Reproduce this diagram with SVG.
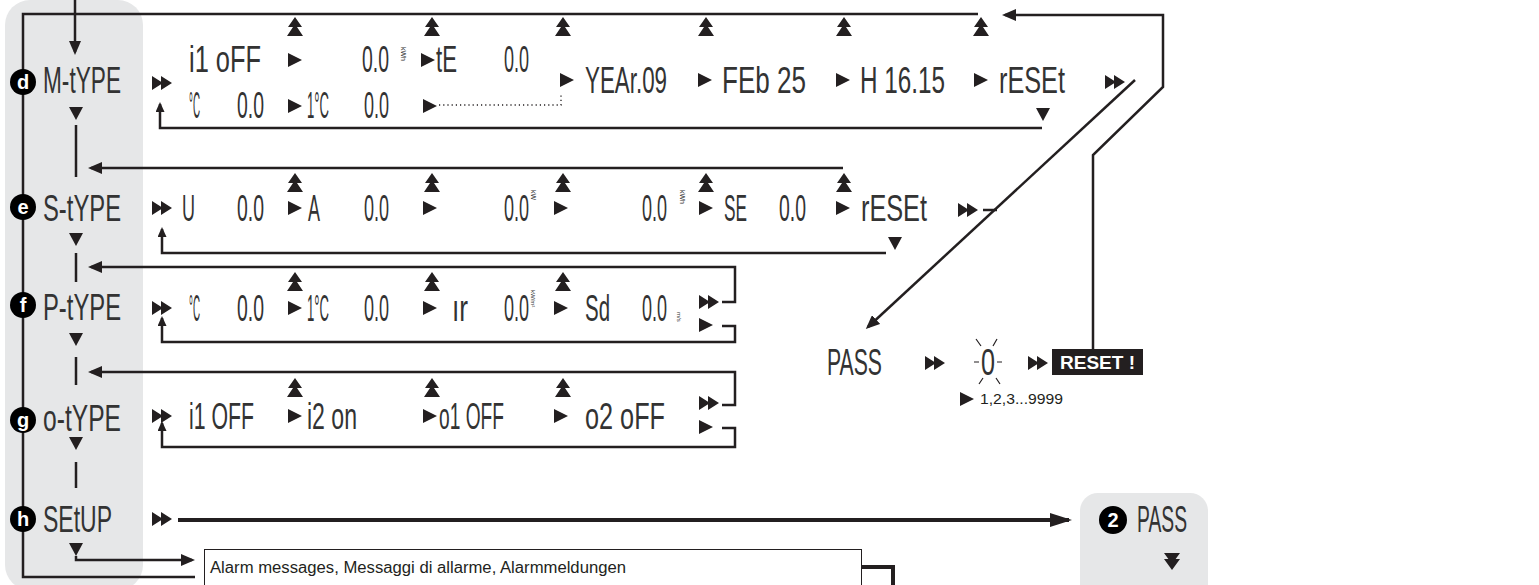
<svg xmlns="http://www.w3.org/2000/svg" width="1539" height="585" viewBox="0 0 1539 585">
<style>
.bg{fill:#ffffff}
.panel{fill:#e6e7e8}
.ln{fill:none;stroke:#231f20;stroke-width:2.5}
.thk{fill:none;stroke:#231f20;stroke-width:4}
.dot{fill:none;stroke:#231f20;stroke-width:1.3;stroke-dasharray:1.2 3}
.sym{fill:#231f20}
.lcd{font-family:"Liberation Sans Narrow","Liberation Sans",sans-serif;font-size:36px;fill:#333333}
.unit{font-family:"Liberation Sans",sans-serif;font-size:7px;fill:#333333}
.badge{fill:#000000}
.bt{font-family:"Liberation Sans",sans-serif;font-weight:bold;font-size:20px;fill:#ffffff;text-anchor:middle}
.txt{font-family:"Liberation Sans Narrow","Liberation Sans",sans-serif;font-size:16px;fill:#231f20}
.box{fill:#ffffff;stroke:#231f20;stroke-width:1}
</style>
<defs>
<marker id="ah" viewBox="0 0 14 12" refX="11" refY="6" markerWidth="14" markerHeight="12" orient="auto" markerUnits="userSpaceOnUse"><path d="M0,0L14,6L0,12Z" fill="#231f20"/></marker>
<marker id="ahs" viewBox="0 0 10 9" refX="8" refY="4.5" markerWidth="10" markerHeight="9" orient="auto" markerUnits="userSpaceOnUse"><path d="M0,0L10,4.5L0,9Z" fill="#231f20"/></marker>
<marker id="ahb" viewBox="0 0 22 14" refX="19" refY="7" markerWidth="22" markerHeight="14" orient="auto" markerUnits="userSpaceOnUse"><path d="M0,0L22,7L0,14Z" fill="#231f20"/></marker>
<path id="tr" d="M0,-7L14,0L0,7Z"/>
<path id="tr2" d="M0,-7L11,0L0,7ZM9,-7L20,0L9,7Z"/>
<path id="up2" d="M0,0L7,10L-7,10ZM0,7L8,19L-8,19Z"/>
<path id="dn" d="M-7,0L7,0L0,13Z"/>
<path id="dn2" d="M-8,0L8,0L0,11ZM-8,6L8,6L0,17Z"/>
</defs>
<rect class="bg" x="0" y="0" width="1539" height="585"/>
<rect class="panel" x="5" y="0" width="138" height="590" rx="25"/>
<rect class="panel" x="1080" y="493" width="128" height="120" rx="18"/>

<g id="connectors">
<path class="ln" d="M75,0V52" marker-end="url(#ah)"/>
<path class="ln" d="M978,14H23V577H195"/>
<path class="ln" d="M1093,349V155L1163,87V15H1005" marker-end="url(#ah)"/>
<path class="ln" d="M1135,80L868,327" stroke-width="1.8" marker-end="url(#ah)"/>
<path class="ln" d="M1042,128H160V104" marker-end="url(#ahs)"/>
<path class="dot" d="M439,105H561V95"/>
<path class="ln" d="M76,125V177"/>
<path class="ln" d="M843,168H91" marker-end="url(#ah)"/>
<path class="ln" d="M886,253H162V229" marker-end="url(#ahs)"/>
<path class="ln" d="M76,253V282"/>
<path class="ln" d="M983,210H997" stroke-width="1.8"/>
<path class="ln" d="M722,302H735V267H91" marker-end="url(#ah)"/>
<path class="ln" d="M722,326H735V342H162V318" marker-end="url(#ahs)"/>
<path class="ln" d="M76,357V385"/>
<path class="ln" d="M722,405H735V372H91" marker-end="url(#ah)"/>
<path class="ln" d="M722,428H735V447H162V423" marker-end="url(#ahs)"/>
<path class="ln" d="M76,462V488"/>
<path class="thk" d="M178,520H1069" marker-end="url(#ahb)"/>
<path class="ln" d="M76,556V560H192" marker-end="url(#ah)"/>
<path class="thk" d="M862,567H893V590"/>
</g>

<g id="arrows" class="sym">
<use href="#up2" x="295" y="17"/><use href="#up2" x="432" y="17"/><use href="#up2" x="563" y="17"/><use href="#up2" x="706" y="17"/><use href="#up2" x="844" y="17"/><use href="#up2" x="981" y="17"/>
<use href="#up2" x="295" y="173"/><use href="#up2" x="432" y="173"/><use href="#up2" x="563" y="173"/><use href="#up2" x="706" y="173"/><use href="#up2" x="844" y="173"/>
<use href="#up2" x="295" y="272"/><use href="#up2" x="432" y="272"/><use href="#up2" x="563" y="272"/>
<use href="#up2" x="295" y="378"/><use href="#up2" x="432" y="378"/><use href="#up2" x="563" y="378"/>
<use href="#dn" x="76" y="107"/><use href="#dn" x="76" y="233"/><use href="#dn" x="76" y="333"/><use href="#dn" x="76" y="437"/><use href="#dn" x="76" y="543"/>
<use href="#dn" x="1043" y="108"/><use href="#dn" x="895" y="237"/>
</g>

<g id="node-d">
<circle class="badge" cx="23" cy="82" r="13"/><text class="bt" x="23" y="89">d</text>
<text class="lcd" x="43" y="93" textLength="78" lengthAdjust="spacingAndGlyphs">M-tYPE</text>
<use class="sym" href="#tr2" x="152" y="83"/>
<text class="lcd" x="189" y="72" textLength="72" lengthAdjust="spacingAndGlyphs">i1 oFF</text>
<use class="sym" href="#tr" x="288" y="60"/>
<text class="lcd" x="362" y="72" textLength="27" lengthAdjust="spacingAndGlyphs">0.0</text>
<text class="unit" transform="translate(401,47) rotate(90)">kWh</text>
<use class="sym" href="#tr" x="421" y="60"/>
<text class="lcd" x="436" y="72" textLength="21" lengthAdjust="spacingAndGlyphs">tE</text>
<text class="lcd" x="504" y="72" textLength="25" lengthAdjust="spacingAndGlyphs">0.0</text>
<text class="lcd" x="189" y="118" textLength="11" lengthAdjust="spacingAndGlyphs">°C</text>
<text class="lcd" x="237" y="118" textLength="27" lengthAdjust="spacingAndGlyphs">0.0</text>
<use class="sym" href="#tr" x="288" y="106"/>
<text class="lcd" x="307" y="118" textLength="22" lengthAdjust="spacingAndGlyphs">1°C</text>
<text class="lcd" x="364" y="118" textLength="25" lengthAdjust="spacingAndGlyphs">0.0</text>
<use class="sym" href="#tr" x="423" y="106"/>
<use class="sym" href="#tr" x="560" y="80"/>
<text class="lcd" x="585" y="93" textLength="82" lengthAdjust="spacingAndGlyphs">YEAr.09</text>
<use class="sym" href="#tr" x="698" y="80"/>
<text class="lcd" x="722" y="93" textLength="84" lengthAdjust="spacingAndGlyphs">FEb 25</text>
<use class="sym" href="#tr" x="836" y="80"/>
<text class="lcd" x="860" y="93" textLength="85" lengthAdjust="spacingAndGlyphs">H 16.15</text>
<use class="sym" href="#tr" x="974" y="80"/>
<text class="lcd" x="999" y="93" textLength="66" lengthAdjust="spacingAndGlyphs">rESEt</text>
<use class="sym" href="#tr2" x="1105" y="82"/>
</g>

<g id="node-e">
<circle class="badge" cx="23" cy="207" r="13"/><text class="bt" x="23" y="214">e</text>
<text class="lcd" x="43" y="221" textLength="78" lengthAdjust="spacingAndGlyphs">S-tYPE</text>
<use class="sym" href="#tr2" x="152" y="208"/>
<text class="lcd" x="182" y="221" textLength="13" lengthAdjust="spacingAndGlyphs">U</text>
<text class="lcd" x="237" y="221" textLength="27" lengthAdjust="spacingAndGlyphs">0.0</text>
<use class="sym" href="#tr" x="288" y="208"/>
<text class="lcd" x="308" y="221" textLength="12" lengthAdjust="spacingAndGlyphs">A</text>
<text class="lcd" x="364" y="221" textLength="25" lengthAdjust="spacingAndGlyphs">0.0</text>
<use class="sym" href="#tr" x="423" y="208"/>
<text class="lcd" x="504" y="221" textLength="25" lengthAdjust="spacingAndGlyphs">0.0</text>
<text class="unit" transform="translate(531,190) rotate(90)">kW</text>
<use class="sym" href="#tr" x="554" y="208"/>
<text class="lcd" x="642" y="221" textLength="25" lengthAdjust="spacingAndGlyphs">0.0</text>
<text class="unit" transform="translate(680,190) rotate(90)">kWh</text>
<use class="sym" href="#tr" x="699" y="208"/>
<text class="lcd" x="724" y="221" textLength="23" lengthAdjust="spacingAndGlyphs">SE</text>
<text class="lcd" x="779" y="221" textLength="27" lengthAdjust="spacingAndGlyphs">0.0</text>
<use class="sym" href="#tr" x="836" y="208"/>
<text class="lcd" x="861" y="221" textLength="66" lengthAdjust="spacingAndGlyphs">rESEt</text>
<use class="sym" href="#tr2" x="958" y="210"/>
</g>

<g id="node-f">
<circle class="badge" cx="23" cy="305" r="13"/><text class="bt" x="23" y="312">f</text>
<text class="lcd" x="43" y="320" textLength="78" lengthAdjust="spacingAndGlyphs">P-tYPE</text>
<use class="sym" href="#tr2" x="152" y="308"/>
<text class="lcd" x="189" y="321" textLength="11" lengthAdjust="spacingAndGlyphs">°C</text>
<text class="lcd" x="237" y="321" textLength="27" lengthAdjust="spacingAndGlyphs">0.0</text>
<use class="sym" href="#tr" x="288" y="308"/>
<text class="lcd" x="307" y="321" textLength="22" lengthAdjust="spacingAndGlyphs">1°C</text>
<text class="lcd" x="364" y="321" textLength="25" lengthAdjust="spacingAndGlyphs">0.0</text>
<use class="sym" href="#tr" x="423" y="308"/>
<text class="lcd" x="452" y="321" textLength="16" lengthAdjust="spacingAndGlyphs">ır</text>
<text class="lcd" x="504" y="321" textLength="25" lengthAdjust="spacingAndGlyphs">0.0</text>
<text class="unit" transform="translate(531,290) rotate(90)" style="font-size:6px">kW/m²</text>
<use class="sym" href="#tr" x="554" y="308"/>
<text class="lcd" x="585" y="321" textLength="25" lengthAdjust="spacingAndGlyphs">Sd</text>
<text class="lcd" x="642" y="321" textLength="25" lengthAdjust="spacingAndGlyphs">0.0</text>
<text class="unit" transform="translate(677,312) rotate(90)" style="font-size:6px">m/s</text>
<use class="sym" href="#tr2" x="699" y="302"/>
<use class="sym" href="#tr" x="699" y="325"/>
</g>

<g id="node-g">
<circle class="badge" cx="23" cy="420" r="13"/><text class="bt" x="23" y="427">g</text>
<text class="lcd" x="43" y="431" textLength="78" lengthAdjust="spacingAndGlyphs">o-tYPE</text>
<use class="sym" href="#tr2" x="152" y="416"/>
<text class="lcd" x="189" y="429" textLength="65" lengthAdjust="spacingAndGlyphs">i1 OFF</text>
<use class="sym" href="#tr" x="288" y="416"/>
<text class="lcd" x="307" y="429" textLength="50" lengthAdjust="spacingAndGlyphs">i2 on</text>
<use class="sym" href="#tr" x="423" y="416"/>
<text class="lcd" x="439" y="429" textLength="65" lengthAdjust="spacingAndGlyphs">o1 OFF</text>
<use class="sym" href="#tr" x="554" y="416"/>
<text class="lcd" x="585" y="429" textLength="80" lengthAdjust="spacingAndGlyphs">o2 oFF</text>
<use class="sym" href="#tr2" x="699" y="403"/>
<use class="sym" href="#tr" x="699" y="427"/>
</g>

<g id="node-h">
<circle class="badge" cx="23" cy="519" r="13"/><text class="bt" x="23" y="526">h</text>
<text class="lcd" x="43" y="532" textLength="69" lengthAdjust="spacingAndGlyphs">SEtUP</text>
<use class="sym" href="#tr2" x="152" y="519"/>
</g>

<g id="node-alarm">
<rect class="box" x="204.5" y="549.5" width="657" height="50"/>
<text class="txt" x="210" y="573" textLength="416" lengthAdjust="spacingAndGlyphs">Alarm messages, Messaggi di allarme, Alarmmeldungen</text>
</g>

<g id="node-pass">
<text class="lcd" x="827" y="375" textLength="55" lengthAdjust="spacingAndGlyphs">PASS</text>
<use class="sym" href="#tr2" x="925" y="363"/>
<text class="lcd" x="981" y="375" textLength="14" lengthAdjust="spacingAndGlyphs">0</text>
<g class="ln" style="stroke-width:1.2">
<path d="M976,339L981,346M997,339L993,346M974,362H979M997,362H1002M979,384L983,378M1000,384L996,378"/>
</g>
<use class="sym" href="#tr2" x="1028" y="363"/>
<use class="sym" href="#tr" x="960" y="399"/>
<text x="980" y="404" style="font-family:'Liberation Sans',sans-serif;font-size:15px;fill:#231f20" textLength="83" lengthAdjust="spacingAndGlyphs">1,2,3...9999</text>
</g>

<g id="node-reset">
<rect x="1052" y="349" width="91" height="26" fill="#231f20"/>
<text x="1097.5" y="369" style="font-family:'Liberation Sans',sans-serif;font-weight:bold;font-size:19px;fill:#ffffff;text-anchor:middle">RESET !</text>
</g>

<g id="node-pass2">
<circle class="badge" cx="1113" cy="520" r="14"/><text class="bt" x="1113" y="527">2</text>
<text class="lcd" x="1137" y="532" textLength="50" lengthAdjust="spacingAndGlyphs">PASS</text>
<use class="sym" href="#dn2" x="1172" y="553"/>
</g>
</svg>
